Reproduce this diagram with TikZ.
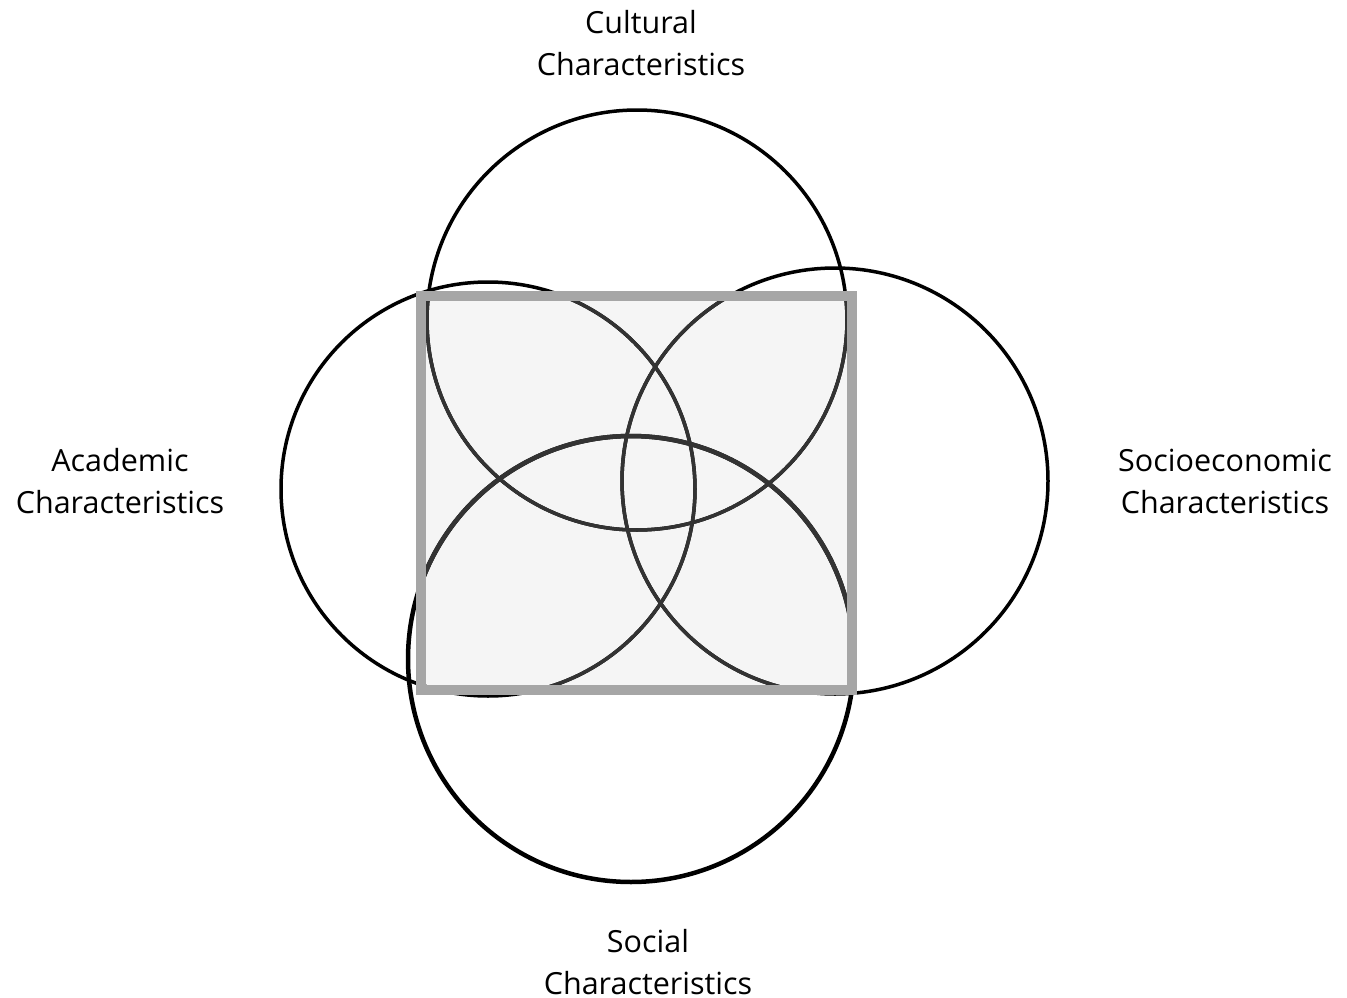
\documentclass[tikz,border=0pt]{standalone}
\usepackage{fontspec}
\setmainfont{Open Sans}
\begin{document}
\begin{tikzpicture}[x=1pt,y=-1pt,
  lbl/.style={align=center,font=\fontsize{30.5}{42}\selectfont,inner sep=0pt,text=black},
  ring/.style={draw=black,line width=3.5pt},
  ringin/.style={draw=black!80,line width=3.5pt}]
\useasboundingbox (0,0) rectangle (1347,998);
\coordinate (sqA) at (421,296);
\coordinate (sqB) at (852,690);
\fill[fill=black!4] (sqA) rectangle (sqB);
\path[ring] (637,320) circle (210);
\path[ring] (488,489) circle (207);
\path[ring] (835,481) circle (213);
\path[ring,line width=4.5pt] (631,659) circle (223);
\begin{scope}
\clip (sqA) rectangle (sqB);
\path[ringin] (637,320) circle (210);
\path[ringin] (488,489) circle (207);
\path[ringin] (835,481) circle (213);
\path[ringin,line width=4.5pt] (631,659) circle (223);
\end{scope}
\draw[draw=black!35,line width=10pt] (sqA) rectangle (sqB);
\node[lbl] (cul) at (641,43) {Cultural\\Characteristics};
\node[lbl] (aca) at (120,481) {Academic\\Characteristics};
\node[lbl] (soc) at (1225,481) {Socioeconomic\\Characteristics};
\node[lbl] (sol) at (648,962) {Social\\Characteristics};
\end{tikzpicture}
\end{document}
